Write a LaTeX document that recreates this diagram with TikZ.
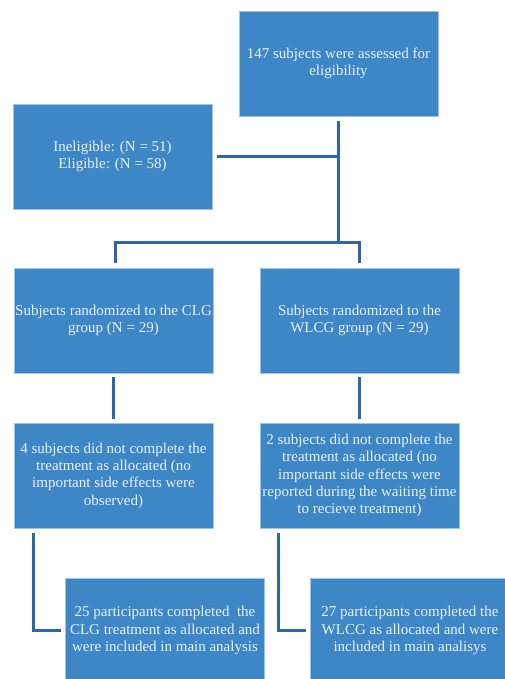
\documentclass[tikz,border=0pt]{standalone}
\usepackage{fontspec}
\setmainfont{Liberation Serif}
\usepackage{xcolor}
\usetikzlibrary{positioning, calc}

\definecolor{boxblue}{RGB}{61,135,198}
\definecolor{edgeblue}{RGB}{160,196,230}
\definecolor{lineblue}{RGB}{46,104,164}
\definecolor{textwhite}{RGB}{234,240,247}

\begin{document}
\begin{tikzpicture}[
    x=1pt, y=-1pt,
    box/.style={draw=edgeblue, line width=0.8pt, fill=boxblue,
                minimum width=199pt, minimum height=105pt, inner sep=1pt,
                align=center, text=textwhite,
                font=\fontsize{15}{17.4}\selectfont},
    link/.style={draw=lineblue, line width=3pt},
  ]
  \useasboundingbox[clip] (0,0) rectangle (505,679);

  % Screening
  \node[box] (elig)   at (338.5,63.5)  {147 subjects were assessed for\\eligibility};
  \node[box] (screen) at (112.5,156.5) {Ineligible: (N = 51)\\Eligible: (N = 58)};
  \coordinate (split) at (338,242.5);

  % Randomisation --- two arms
  \node[box] (clg)  at (113.5,320.5) {Subjects randomized to the CLG\\group (N = 29)};
  \node[box] (wlcg) at (359.5,320.5) {Subjects randomized to the\\WLCG group (N = 29)};

  % Drop-outs
  \node[box] (dropclg)  at (113.5,475.5)
    {4 subjects did not complete the\\treatment as allocated (no\\important side effects were\\observed)};
  \node[box] (dropwlcg) at (359.5,475.5)
    {2 subjects did not complete the\\treatment as allocated (no\\important side effects were\\reported during the waiting time\\to recieve treatment)};

  % Completers
  \node[box] (endclg)  at (165,630.5)
    {25 participants completed~ the\\CLG treatment as allocated and\\were included in main analysis};
  \node[box] (endwlcg) at (410,630.5)
    {27 participants completed the\\WLCG as allocated and were\\included in main analisys};

  % Connectors
  \draw[link, shorten <=5pt] ($(elig.south)+(-0.5,0)$) -- (split);
  \draw[link, shorten <=5pt] (screen.east) -- (screen.east -| split);
  \draw[link, shorten <=5pt, shorten >=5pt] ($(clg.north)+(1.5,0)$) |- (split) -| (wlcg.north);
  \draw[link, shorten <=4pt, shorten >=4pt] (clg) -- (dropclg);
  \draw[link, shorten <=4pt, shorten >=4pt] (wlcg) -- (dropwlcg);
  \draw[link, shorten <=5pt, shorten >=4pt] (dropclg.south -| 33,0) |- (endclg.west);
  \draw[link, shorten <=5pt, shorten >=4pt] (dropwlcg.south -| 278,0) |- (endwlcg.west);
\end{tikzpicture}
\end{document}
